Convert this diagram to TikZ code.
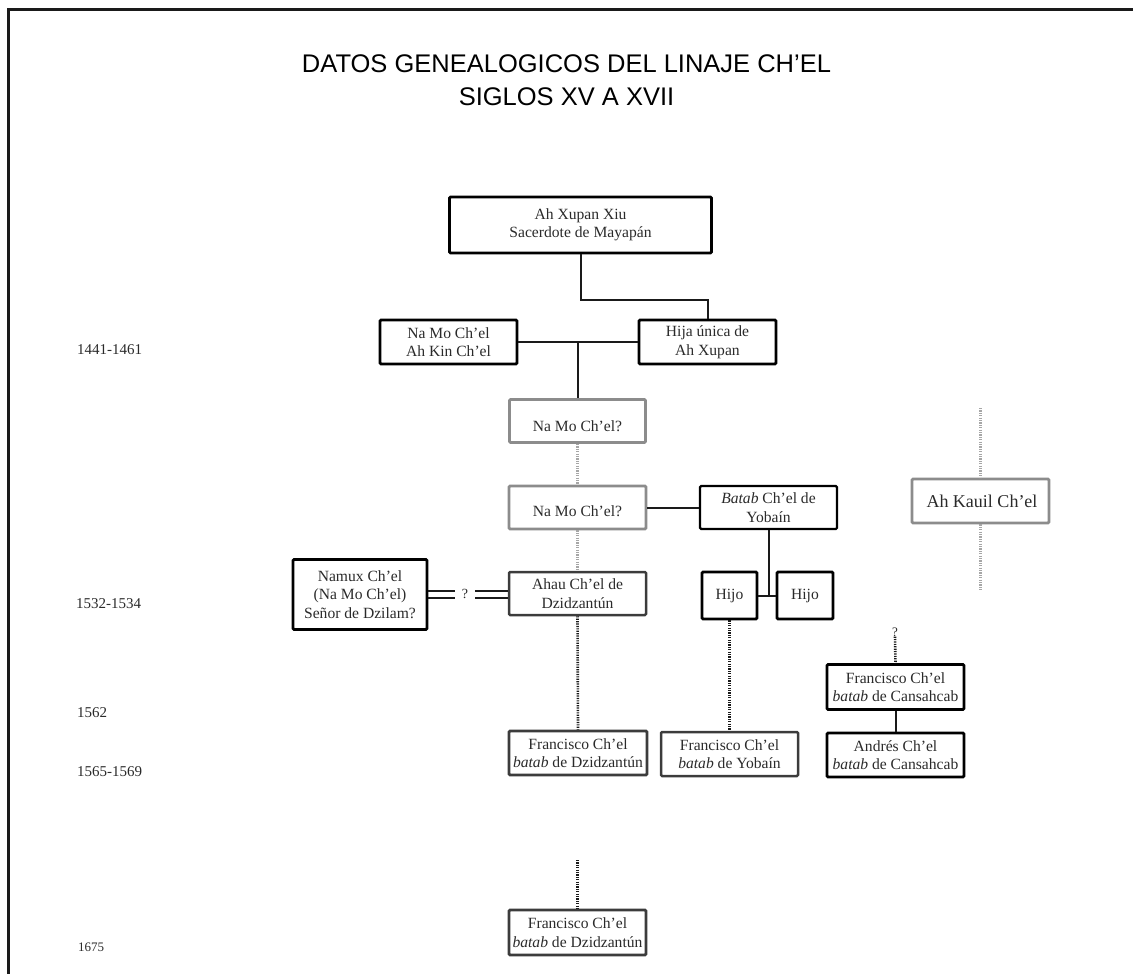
\documentclass[tikz,border=0pt]{standalone}
\usepackage{fontspec}
\setmainfont{Liberation Serif}
\newfontfamily\titlefont{Liberation Sans}
\usetikzlibrary{calc}
\definecolor{ink}{HTML}{2A2A2A}
\definecolor{frameink}{HTML}{1A1A1A}
\definecolor{softgray}{HTML}{8C8C8C}
\definecolor{dotgray}{HTML}{A6A6A6}
\definecolor{darkgray}{HTML}{3C3C3C}
\begin{document}
\begin{tikzpicture}[x=1pt,y=-1pt,
  box/.style={draw=black, line width=2.8pt, rounded corners=1.2pt, align=center,
    inner sep=0pt, text=ink, font=\fontsize{15.6}{18.5}\selectfont},
  greybox/.style={box, draw=softgray},
  darkbox/.style={box, draw=darkgray},
  thinbox/.style={box, line width=2.2pt},
  conn/.style={draw=frameink, line width=2pt},
  dotconn/.style={draw=frameink, line width=2.6pt, dash pattern=on 1.2pt off 1.2pt},
  greydot/.style={draw=dotgray, line width=2.6pt, dash pattern=on 1.2pt off 1.2pt},
  year/.style={anchor=west, inner sep=0pt, text=ink, font=\fontsize{15}{18}\selectfont},
  qmark/.style={inner sep=0pt, text=ink, font=\fontsize{14}{16}\selectfont}]
\useasboundingbox (0,0) rectangle (1133,974);

% page frame: top and left rules
\draw[frameink, line width=3pt] (8,974) -- (8,10) -- (1133,10);

% title
\node[align=center, inner sep=0pt, font=\titlefont\fontsize{25.5}{33}\selectfont] (title) at (566.5,80)
  {DATOS GENEALOGICOS DEL LINAJE CH’EL\\SIGLOS XV A XVII};

% years
\node[year] (y1) at (77,350) {1441-1461};
\node[year] (y2) at (76,604) {1532-1534};
\node[year] (y3) at (77,713) {1562};
\node[year] (y4) at (77,772) {1565-1569};
\node[year, font=\fontsize{13}{15}\selectfont] (y5) at (78,947) {1675};

% people
\node[box, minimum width=262pt, minimum height=56pt] (xupan) at (580.5,225)
  {Ah Xupan Xiu\\Sacerdote de Mayapán};
\node[box, minimum width=137pt, minimum height=44pt] (namo) at (448.5,342)
  {Na Mo Ch’el\\Ah Kin Ch’el};
\node[box, minimum width=137pt, minimum height=44pt] (hija) at (707.5,342)
  {Hija única de\\Ah Xupan};
\node[greybox, minimum width=136pt, minimum height=43pt] (namoq1) at (577.5,421)
  {\raisebox{-5pt}[\height][\depth]{Na Mo Ch’el?}};
\node[greybox, minimum width=137pt, minimum height=43pt] (namoq2) at (577.5,507.5)
  {\raisebox{-4pt}[\height][\depth]{Na Mo Ch’el?}};
\node[thinbox, minimum width=137pt, minimum height=43pt] (batab) at (768.5,507.5)
  {\textit{Batab} Ch’el de\\Yobaín};
\node[darkbox, line width=2.5pt, minimum width=137pt, minimum height=43pt] (ahau) at (577.5,593.5)
  {Ahau Ch’el de\\Dzidzantún};
\node[box, minimum width=55pt, minimum height=47pt] (hijoa) at (729.5,595.5) {Hijo};
\node[box, minimum width=56pt, minimum height=47pt] (hijob) at (805,595.5) {Hijo};
\node[box, minimum width=134pt, minimum height=70pt] (namux) at (360,594.5)
  {Namux Ch’el\\(Na Mo Ch’el)\\Señor de Dzilam?};
\node[greybox, minimum width=137pt, minimum height=44pt, font=\fontsize{18}{21}\selectfont] (kauil) at (980.5,501)
  {\hspace{3pt}Ah Kauil Ch’el};
\node[darkbox, minimum width=138pt, minimum height=44pt] (fdz) at (578,753)
  {Francisco Ch’el\\\textit{batab} de Dzidzantún};
\node[darkbox, line width=2.5pt, minimum width=137pt, minimum height=44pt] (fyob) at (729.5,754)
  {Francisco Ch’el\\\textit{batab} de Yobaín};
\node[box, minimum width=137pt, minimum height=45pt] (fcan) at (895.5,687)
  {Francisco Ch’el\\\textit{batab} de Cansahcab};
\node[box, minimum width=137pt, minimum height=44pt] (andres) at (895.5,755)
  {Andrés Ch’el\\\textit{batab} de Cansahcab};
\node[darkbox, minimum width=137pt, minimum height=45pt] (fdzb) at (577.5,932.5)
  {Francisco Ch’el\\\textit{batab} de Dzidzantún};

% question marks
\node[qmark, minimum width=20pt] (dq) at (465,594) {?};
\node[qmark, font=\fontsize{13}{15}\selectfont] (cq) at (895,632) {?};

% loose ends of the open lines
\coordinate (kauiltop) at (980.5,408);
\coordinate (kauilbot) at (980.5,591);
\coordinate (fdzbtop) at (577.5,860);

% solid links
\draw[conn] (xupan.south) -- ++(0,46) -| (hija.north);
\draw[conn] (namo.east) -- (hija.west);
\coordinate (couple) at ($(namo.east)!0.5!(hija.west)$);
\draw[conn] (couple) -- (couple |- namoq1.north);
\draw[conn] (namoq2.east) -- (batab.west);
\draw[conn] (batab.south) -- (batab.south |- hijoa.east);
\draw[conn] (hijoa.east) -- (hijob.west);
\draw[conn] (fcan.south) -- (andres.north);

% double link with doubt
\draw[conn] ([yshift=3.5pt]namux.east) -- ([yshift=3.5pt]namux.east -| dq.west);
\draw[conn] ([yshift=-3.5pt]namux.east) -- ([yshift=-3.5pt]namux.east -| dq.west);
\draw[conn] ([yshift=3.5pt]namux.east -| dq.east) -- ([yshift=3.5pt]namux.east -| ahau.west);
\draw[conn] ([yshift=-3.5pt]namux.east -| dq.east) -- ([yshift=-3.5pt]namux.east -| ahau.west);

% uncertain descent
\draw[greydot] (namoq1.south) -- (namoq2.north);
\draw[greydot] (namoq2.south) -- (ahau.north);
\draw[greydot] (kauiltop) -- (kauil.north);
\draw[greydot] (kauil.south) -- (kauilbot);
\draw[dotconn] (ahau.south) -- (fdz.north);
\draw[dotconn] (hijoa.south) -- (fyob.north);
\draw[dotconn] (cq.south) -- (fcan.north);
\draw[dotconn] (fdzbtop) -- (fdzb.north);
\end{tikzpicture}
\end{document}
